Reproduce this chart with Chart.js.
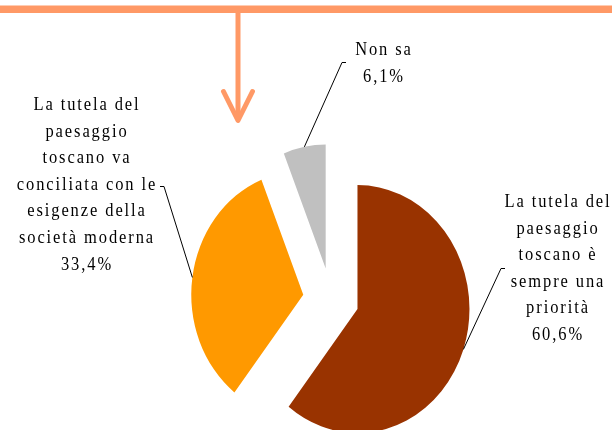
<!DOCTYPE html>
<html>
<head>
<meta charset="utf-8">
<script src="https://cdn.jsdelivr.net/npm/chart.js@4/dist/chart.umd.min.js"></script>
<style>
  html, body { margin: 0; padding: 0; background: #ffffff; }
  #wrap { width: 612px; height: 430px; position: relative; }
</style>
</head>
<body>
<div id="wrap"><canvas id="c" width="612" height="430"></canvas></div>
<script>
// ---- data ----
const categories = [
  "La tutela del paesaggio toscano è sempre una priorità",
  "La tutela del paesaggio toscano va conciliata con le esigenze della società moderna",
  "Non sa"
];
const values = [60.6, 33.4, 6.1];
const labelLines = [
  ["La tutela del", "paesaggio", "toscano è", "sempre una", "priorità"],
  ["La tutela del", "paesaggio", "toscano va", "conciliata con le", "esigenze della", "società moderna"],
  ["Non sa"]
];
const colors = ["#993300", "#FF9900", "#C0C0C0"];

// ---- layout / style ----
const explodeDist = 28;     // px each slice is pulled out along its bisector
const yStretch = 1.107;     // vertical stretch of the drawing
const lineGap = 26.6;
const labelPos = [          // text centre x, first baseline y, leader tick start (x,y), tick dir
  { x: 557, y: 207, tx: 501, ty: 268, dir: 1 },
  { x: 86,  y: 110, tx: 164, ty: 186, dir: -1 },
  { x: 383, y: 55,  tx: 342, ty: 62,  dir: 1 }
];
const fontCss = '16.5px "Liberation Serif", "Times New Roman", serif';

function pct(v) { return v.toFixed(1).replace('.', ',') + '%'; }

function sliceShift(arc) {
  const mid = (arc.startAngle + arc.endAngle) / 2;
  return { dx: Math.cos(mid) * explodeDist, dy: Math.sin(mid) * explodeDist, mid };
}

const explodePlugin = {
  id: 'explode',
  beforeDraw(chart) {
    const ctx = chart.ctx;
    ctx.save();
    ctx.strokeStyle = '#FF9966';
    ctx.lineCap = 'round';
    ctx.lineJoin = 'round';
    ctx.lineWidth = 7.5;
    ctx.beginPath(); ctx.moveTo(0, 9.3); ctx.lineTo(612, 9.3); ctx.stroke();
    ctx.lineWidth = 5;
    ctx.lineCap = 'butt';
    ctx.beginPath(); ctx.moveTo(238, 10); ctx.lineTo(238, 120); ctx.stroke();
    ctx.lineCap = 'round';
    ctx.beginPath(); ctx.moveTo(223.5, 91.5); ctx.lineTo(238, 120.5); ctx.lineTo(252.5, 91.5); ctx.stroke();
    ctx.restore();
  },
  beforeDatasetDraw(chart, args) {
    const ctx = chart.ctx;
    args.meta.data.forEach(arc => {
      const s = sliceShift(arc);
      ctx.save();
      ctx.translate(arc.x, arc.y);
      ctx.scale(1, yStretch);
      ctx.translate(s.dx - arc.x, s.dy - arc.y);
      arc.draw(ctx, chart.chartArea);
      ctx.restore();
    });
    return false;
  },
  afterDatasetsDraw(chart) {
    const ctx = chart.ctx;
    const meta = chart.getDatasetMeta(0);
    ctx.save();
    meta.data.forEach((arc, i) => {
      const s = sliceShift(arc);
      const r = arc.outerRadius;
      const ax = arc.x + s.dx + Math.cos(s.mid) * r;
      const ay = arc.y + (s.dy + Math.sin(s.mid) * r) * yStretch;
      const p = labelPos[i];
      // leader
      ctx.strokeStyle = '#000';
      ctx.lineWidth = 1;
      ctx.beginPath();
      ctx.moveTo(p.tx + p.dir * 4, p.ty + 0.5);
      ctx.lineTo(p.tx, p.ty + 0.5);
      ctx.lineTo(ax, ay);
      ctx.stroke();
      // text
      const lines = labelLines[i].concat([pct(values[i])]);
      ctx.fillStyle = '#000';
      ctx.font = fontCss;
      ctx.textAlign = 'center';
      ctx.textBaseline = 'alphabetic';
      ctx.letterSpacing = '1.9px';
      lines.forEach((t, k) => {
        ctx.save();
        ctx.translate(p.x + 1, p.y + k * lineGap);
        ctx.scale(1, yStretch);
        ctx.fillText(t, 0, 0);
        ctx.restore();
      });
    });
    ctx.restore();
  }
};

new Chart(document.getElementById('c'), {
  type: 'pie',
  data: {
    labels: categories,
    datasets: [{
      data: values,
      backgroundColor: colors,
      borderWidth: 0
    }]
  },
  options: {
    responsive: false,
    animation: false,
    radius: 112,
    layout: { padding: { left: 50, right: 0, top: 168, bottom: 0 } },
    plugins: {
      legend: { display: false },
      tooltip: { enabled: false }
    }
  },
  plugins: [explodePlugin]
});
</script>
</body>
</html>
